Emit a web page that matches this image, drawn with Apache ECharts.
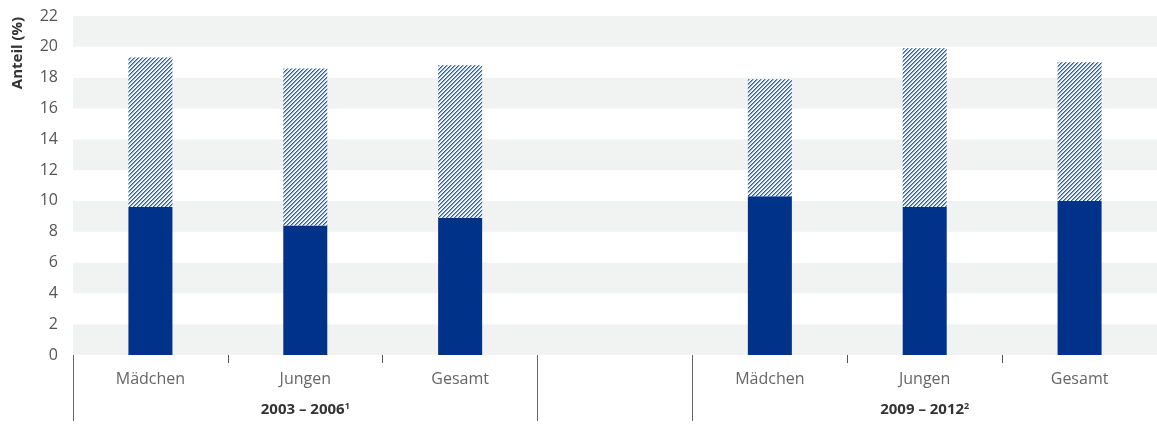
<!DOCTYPE html>
<html>
<head>
<meta charset="utf-8">
<script src="https://cdn.jsdelivr.net/npm/echarts@6/dist/echarts.min.js"></script>
<style>
html,body{margin:0;padding:0;background:#fff;}
#chart{width:1157px;height:426px;}
</style>
</head>
<body>
<div id="chart"></div>
<script>
const categories = ['Mädchen', 'Jungen', 'Gesamt', '', 'Mädchen', 'Jungen', 'Gesamt'];
const periodLabels = ['', '2003 – 2006{s|1}', '', '', '', '2009 – 2012{s|2}', ''];
const solidValues = [9.6, 8.4, 8.9, null, 10.3, 9.6, 10.0];
const hatchedValues = [9.7, 10.2, 9.9, null, 7.6, 10.3, 9.0];
const yTicks = { min: 0, max: 22, interval: 2 };

const NAVY = '#00328a';

// diagonal hatch pattern
const pc = document.createElement('canvas');
pc.width = 4; pc.height = 4;
const px = pc.getContext('2d');
px.fillStyle = '#ffffff';
px.fillRect(0, 0, 4, 4);
for (let x = 0; x < 4; x++) {
  px.fillStyle = '#2f58aa';
  px.fillRect(x, 3 - x, 1, 1);
  px.fillStyle = '#87a0d3';
  px.fillRect(x, (4 - x) % 4, 1, 1);
  px.fillStyle = '#e8eef8';
  px.fillRect(x, (5 - x) % 4, 1, 1);
}

const chart = echarts.init(document.getElementById('chart'), null, { renderer: 'canvas' });
chart.setOption({
  animation: false,
  backgroundColor: '#fff',
  grid: { left: 73, right: 0, top: 16, bottom: 71, containLabel: false },
  xAxis: [
    {
      type: 'category',
      data: categories,
      position: 'bottom',
      axisLine: { show: false },
      axisTick: {
        show: true, length: 8,
        lineStyle: { color: '#555', width: 1 },
        interval: function (i) { return i === 1 || i === 2 || i === 5 || i === 6; }
      },
      axisLabel: {
        color: '#666', fontSize: 16, margin: 16,
        fontFamily: 'Open Sans', interval: 0
      }
    },
    {
      type: 'category',
      data: periodLabels,
      position: 'bottom',
      axisLine: { show: false },
      axisTick: {
        show: true, length: 66,
        lineStyle: { color: '#666', width: 1 },
        interval: function (i) { return i === 0 || i === 3 || i === 4; }
      },
      axisLabel: {
        interval: 0, margin: 47,
        color: '#333', fontSize: 15, fontWeight: 'bold', fontFamily: 'Open Sans',
        rich: { s: { fontSize: 9, fontWeight: 'bold', color: '#333', verticalAlign: 'top', padding: [0, 0, 6, 0], fontFamily: 'Open Sans' } }
      }
    }
  ],
  yAxis: {
    type: 'value',
    min: yTicks.min, max: yTicks.max, interval: yTicks.interval,
    axisLine: { show: false },
    axisTick: { show: false },
    axisLabel: { color: '#555', fontSize: 16, margin: 15, fontFamily: 'Open Sans' },
    splitLine: { show: false },
    splitArea: { show: true, areaStyle: { color: ['#f1f2f2', '#ffffff'] } }
  },
  series: [
    {
      type: 'bar', stack: 'a', xAxisIndex: 0, barWidth: 44,
      data: solidValues,
      itemStyle: { color: NAVY }
    },
    {
      type: 'bar', stack: 'a', xAxisIndex: 0, barWidth: 44,
      data: hatchedValues,
      itemStyle: { color: { image: pc, repeat: 'repeat' } }
    }
  ],
  graphic: [
    {
      type: 'text', x: 18, y: 53, rotation: Math.PI / 2,
      style: {
        text: 'Anteil (%)', fill: '#333', font: 'bold 15px "Open Sans"',
        align: 'center', verticalAlign: 'middle'
      }
    }
  ]
});
</script>
</body>
</html>
